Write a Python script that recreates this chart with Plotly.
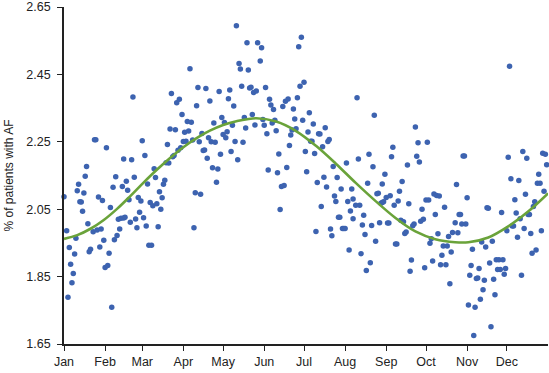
import plotly.graph_objects as go

# ---- data ----
month_labels = ["Jan", "Feb", "Mar", "Apr", "May", "Jun", "Jul", "Aug", "Sep", "Oct", "Nov", "Dec"]
month_start_days = [0, 31, 59, 90, 120, 151, 181, 212, 243, 273, 304, 334]
y_ticks = [1.65, 1.85, 2.05, 2.25, 2.45, 2.65]

day_jan_mar = [0, 2, 3, 4, 5, 6, 7, 8, 9, 10, 11, 12, 13, 14, 15, 16, 17, 18, 19, 20, 22, 23, 24, 25, 26,
               27, 28, 29, 30, 31, 32, 33, 34, 35, 36, 37, 38, 39, 40, 41, 42, 43, 44, 45, 45, 46, 47, 48,
               49, 50, 51, 52, 53, 54, 55, 56, 57, 58, 59, 60, 61, 62, 63, 64, 65, 66, 67, 68, 69, 70]
pct_jan_mar = [2.087, 1.986, 1.789, 1.936, 1.887, 1.832, 1.859, 1.917, 1.964, 2.105, 2.124, 2.072, 2.071,
               2.044, 2.098, 2.148, 2.177, 2.007, 1.924, 1.931, 1.983, 2.256, 2.256, 1.988, 2.086, 1.938,
               1.991, 2.076, 1.958, 1.877, 2.232, 1.883, 1.919, 2.055, 1.759, 2.115, 1.959, 2.146, 1.972,
               2.020, 1.991, 2.023, 2.117, 2.199, 2.024, 2.026, 2.133, 2.106, 2.078, 2.011, 2.197, 2.383,
               2.145, 2.021, 1.995, 2.085, 2.041, 2.074, 2.253, 2.025, 2.209, 2.000, 2.125, 1.943, 2.070,
               1.943, 2.060, 2.170, 2.144, 2.066]

day_mar_may = [71, 72, 73, 74, 75, 76, 77, 78, 79, 80, 81, 82, 83, 84, 85, 86, 87, 88, 89, 90, 91, 92, 93,
               94, 95, 96, 97, 98, 99, 100, 101, 102, 103, 104, 105, 106, 107, 108, 109, 110, 111, 112,
               113, 114, 115, 116, 117, 118, 119, 120, 121, 122, 123, 124, 125, 126, 127, 128, 129, 130,
               131, 132, 133, 134, 135, 136, 137, 138, 139, 140, 141, 142, 143, 144, 146]
pct_mar_may = [1.998, 2.102, 2.050, 2.084, 2.124, 2.136, 2.188, 2.242, 2.187, 2.288, 2.393, 2.206, 2.209,
               2.286, 2.366, 2.225, 2.376, 2.232, 2.331, 2.251, 2.278, 2.252, 2.310, 2.282, 2.467, 2.308,
               2.255, 1.995, 2.099, 2.357, 2.411, 2.250, 2.094, 2.275, 2.224, 2.226, 2.408, 2.201, 2.262,
               2.371, 2.250, 2.173, 2.306, 2.249, 2.130, 2.169, 2.399, 2.213, 2.322, 2.272, 2.307, 2.262,
               2.280, 2.378, 2.404, 2.221, 2.299, 2.356, 2.251, 2.594, 2.197, 2.482, 2.466, 2.415, 2.249,
               2.322, 2.291, 2.544, 2.463, 2.410, 2.412, 2.331, 2.396, 2.300, 2.544]

day_may_aug = [145, 147, 148, 149, 150, 151, 152, 153, 154, 155, 156, 157, 158, 159, 160, 161, 162, 163,
               164, 165, 166, 167, 168, 169, 170, 171, 172, 173, 174, 175, 176, 177, 178, 179, 180, 181,
               182, 183, 184, 185, 186, 187, 188, 189, 190, 191, 192, 193, 194, 195, 196, 197, 198, 199,
               200, 201, 202, 203, 204, 205, 206, 207, 208, 209, 210, 211, 212, 213, 214, 215, 216, 217,
               218, 218]
pct_may_aug = [2.401, 2.652, 2.490, 2.529, 2.316, 2.299, 2.411, 2.274, 2.166, 2.376, 2.359, 2.306, 2.346,
               2.314, 2.283, 2.158, 2.214, 2.049, 2.117, 2.355, 2.120, 2.370, 2.174, 2.377, 2.239, 2.270,
               2.285, 2.347, 2.318, 2.289, 2.381, 2.532, 2.415, 2.560, 2.314, 2.427, 2.221, 2.161, 2.279,
               2.336, 2.252, 2.252, 2.303, 2.215, 1.984, 2.129, 2.274, 2.273, 2.058, 2.235, 2.145, 2.292,
               2.116, 2.251, 2.257, 1.991, 1.971, 2.177, 2.089, 2.073, 2.144, 2.026, 2.026, 2.110, 1.993,
               1.993, 1.993, 2.187, 2.073, 1.929, 2.045, 2.110, 2.080, 2.022]

day_aug_oct = [220, 221, 222, 223, 224, 225, 226, 227, 228, 229, 230, 231, 232, 233, 234, 235, 236, 237,
               238, 239, 240, 240, 241, 242, 243, 244, 245, 246, 247, 248, 249, 250, 251, 252, 253, 254,
               255, 256, 257, 258, 259, 260, 261, 262, 263, 264, 265, 266, 267, 268, 269, 270, 271, 272,
               273, 274, 275, 276, 277, 278, 279, 280, 281, 282, 283, 284, 285, 286, 287, 288, 289, 290,
               291, 292, 293]
pct_aug_oct = [2.062, 2.381, 2.199, 2.062, 1.918, 2.003, 2.032, 1.975, 1.868, 2.127, 2.213, 1.891, 2.002,
               2.176, 2.329, 1.955, 2.096, 2.097, 2.010, 2.068, 2.125, 2.070, 2.072, 2.154, 2.085, 2.009,
               2.009, 2.090, 2.206, 2.234, 2.062, 1.947, 1.947, 2.074, 2.103, 2.017, 2.132, 2.013, 1.978,
               1.982, 2.181, 2.066, 1.866, 1.899, 2.001, 2.006, 2.294, 2.207, 2.247, 2.190, 2.014, 2.050,
               2.020, 1.876, 2.077, 2.249, 2.077, 1.949, 1.962, 1.896, 2.095, 2.034, 2.091, 1.977, 2.089,
               1.885, 1.913, 1.941, 2.056, 1.885, 1.941, 1.969, 1.829, 1.923, 1.981]

day_oct_dec = [295, 296, 297, 298, 299, 300, 301, 302, 303, 304, 305, 306, 307, 308, 309, 310, 311, 312,
               313, 314, 315, 316, 317, 318, 319, 320, 321, 322, 323, 324, 325, 326, 327, 328, 329, 330,
               331, 332, 333, 334, 335, 336, 337, 338, 339, 340, 341, 342, 343, 344, 345, 346, 347, 348,
               349, 350, 351, 352, 353, 354, 355, 356, 357, 358, 359, 360, 361, 362, 363, 364]
pct_oct_dec = [2.010, 2.123, 1.980, 2.034, 2.034, 2.006, 2.208, 2.208, 2.006, 2.084, 1.766, 1.854, 1.883,
               1.931, 1.675, 1.759, 1.844, 1.846, 1.874, 1.783, 1.953, 1.811, 1.839, 1.938, 2.054, 2.053,
               1.890, 1.701, 1.955, 1.842, 1.796, 1.900, 1.871, 1.900, 1.871, 2.040, 1.900, 1.857, 1.874,
               1.986, 2.204, 2.474, 2.140, 2.000, 2.000, 2.078, 2.039, 1.967, 2.135, 2.022, 1.854, 2.221,
               1.993, 2.094, 2.201, 2.034, 2.034, 1.978, 1.919, 2.058, 2.072, 1.929, 2.127, 2.154, 2.127,
               1.986, 2.216, 2.103, 2.213, 2.182]

# fitted seasonal curve
fit_days = [0, 10, 20, 30, 40, 50, 60, 70, 80, 90, 100, 110, 120, 130, 145, 160, 175, 190, 205, 220,
            235, 250, 265, 280, 295, 305, 320, 335, 350, 365]
fit_pct = [1.962, 1.973, 1.992, 2.018, 2.051, 2.089, 2.129, 2.167, 2.202, 2.234, 2.261, 2.283, 2.300,
           2.311, 2.320, 2.310, 2.282, 2.238, 2.185, 2.128, 2.074, 2.024, 1.984, 1.961, 1.952, 1.952,
           1.966, 1.999, 2.043, 2.097]

days = day_jan_mar + day_mar_may + day_may_aug + day_aug_oct + day_oct_dec
pct = pct_jan_mar + pct_mar_may + pct_may_aug + pct_aug_oct + pct_oct_dec

# ---- figure ----
font_family = "Liberation Sans, Arial, sans-serif"
axis_color = "#222222"

fig = go.Figure()
fig.add_trace(go.Scatter(
    x=days, y=pct, mode="markers",
    marker=dict(color="#3d63b0", size=5.5, line=dict(width=0)),
    cliponaxis=False, showlegend=False, hoverinfo="x+y",
))
fig.add_trace(go.Scatter(
    x=fit_days, y=fit_pct, mode="lines",
    line=dict(color="#6aa33a", width=2.6, shape="spline", smoothing=1.0),
    showlegend=False, hoverinfo="skip",
))

fig.update_layout(
    width=549, height=373,
    margin=dict(l=64, r=1, t=7, b=29),
    paper_bgcolor="white", plot_bgcolor="white",
    font=dict(family=font_family, size=12, color=axis_color),
    xaxis=dict(
        range=[0, 365], tickmode="array", tickvals=month_start_days, ticktext=month_labels,
        ticks="outside", ticklen=5, tickwidth=1.2, tickcolor=axis_color,
        showline=True, linecolor=axis_color, linewidth=1.6,
        showgrid=False, zeroline=False, tickfont=dict(size=12.5, color=axis_color),
    ),
    yaxis=dict(
        range=[1.65, 2.65], tickmode="array", tickvals=y_ticks,
        ticktext=[f"{v:.2f}" for v in y_ticks],
        ticks="outside", ticklen=5, tickwidth=1.2, tickcolor=axis_color,
        showline=True, linecolor=axis_color, linewidth=1.6,
        showgrid=False, zeroline=False, tickfont=dict(size=12.5, color=axis_color),
        ticklabelstandoff=4,
        title=dict(text="% of patients with AF", font=dict(size=12, color=axis_color), standoff=10),
    ),
)

fig.write_html("out.html", config={"displayModeBar": False},
               post_script="document.body.style.margin='0px';")
